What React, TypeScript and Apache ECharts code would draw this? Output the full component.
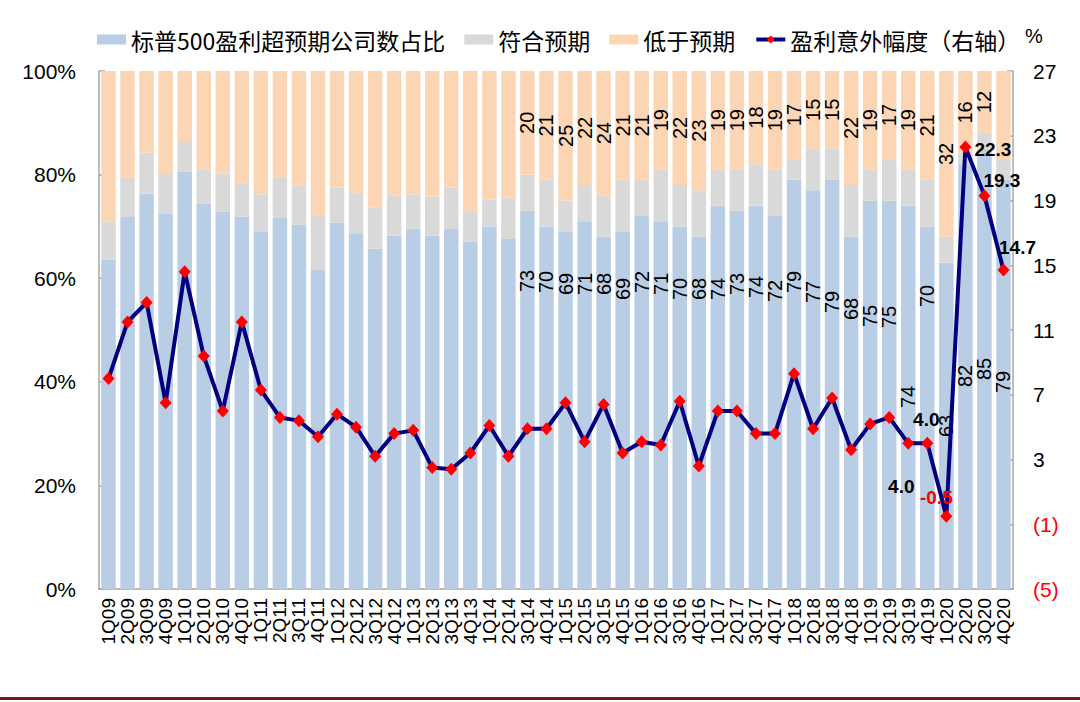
import React, { useEffect, useRef } from "react";
import * as echarts from "echarts";

const categories = [
  "1Q09", "2Q09", "3Q09", "4Q09", "1Q10", "2Q10", "3Q10", "4Q10",
  "1Q11", "2Q11", "3Q11", "4Q11", "1Q12", "2Q12", "3Q12", "4Q12",
  "1Q13", "2Q13", "3Q13", "4Q13", "1Q14", "2Q14", "3Q14", "4Q14",
  "1Q15", "2Q15", "3Q15", "4Q15", "1Q16", "2Q16", "3Q16", "4Q16",
  "1Q17", "2Q17", "3Q17", "4Q17", "1Q18", "2Q18", "3Q18", "4Q18",
  "1Q19", "2Q19", "3Q19", "4Q19", "1Q20", "2Q20", "3Q20", "4Q20",
];

// % of S&P 500 companies beating estimates
const beat = [
  63.6, 71.8, 76.3, 72.5, 80.6, 74.4, 72.8, 71.9, 69.0, 71.6, 70.3, 61.6,
  70.7, 68.7, 65.7, 68.2, 69.6, 68.2, 69.5, 67.1, 70.0, 67.6, 73, 70,
  69, 71, 68, 69, 72, 71, 70, 68, 74, 73, 74, 72,
  79, 77, 79, 68, 75, 75, 74, 70, 63, 82, 85, 79,
];
// % in line
const inline = [
  7.3, 7.7, 7.9, 7.8, 5.9, 6.6, 7.4, 6.3, 7.2, 7.9, 7.6, 10.4,
  6.8, 7.7, 7.9, 7.7, 6.6, 7.5, 8.0, 5.7, 5.2, 8.0, 7, 9,
  6, 7, 8, 10, 7, 10, 8, 9, 7, 8, 8, 9,
  4, 8, 6, 10, 6, 8, 7, 9, 5, 2, 3, 4,
];
// % missing estimates
const below = [
  29.1, 20.5, 15.8, 19.7, 13.5, 19.0, 19.8, 21.8, 23.8, 20.5, 22.1, 28.0,
  22.5, 23.6, 26.4, 24.1, 23.8, 24.3, 22.5, 27.2, 24.8, 24.4, 20, 21,
  25, 22, 24, 21, 21, 19, 22, 23, 19, 19, 18, 19,
  17, 15, 15, 22, 19, 17, 19, 21, 32, 16, 12, 17,
];
// earnings surprise magnitude (%), right axis
const surprise = [
  8.0, 11.5, 12.7, 6.5, 14.6, 9.4, 6.0, 11.5, 7.3, 5.6, 5.4, 4.4,
  5.8, 5.0, 3.2, 4.6, 4.8, 2.5, 2.4, 3.4, 5.1, 3.2, 4.9, 4.9,
  6.5, 4.1, 6.4, 3.4, 4.1, 3.9, 6.6, 2.6, 6.0, 6.0, 4.6, 4.6,
  8.3, 4.9, 6.8, 3.6, 5.2, 5.6, 4.0, 4.0, -0.5, 22.3, 19.3, 14.7,
];

const seriesNames = ["标普500盈利超预期公司数占比", "符合预期", "低于预期", "盈利意外幅度（右轴）"];

const leftTicks = { min: 0, max: 100, interval: 20 };
const rightTicks = { min: -5, max: 27, interval: 4 };

// first index where bar value labels are shown
const beatLabelFrom = 22;
const belowLabelFrom = 22;
const belowLabelTo = 46;

// layout: distance of each beat label from bar bottom (px), index from beatLabelFrom
const beatLabelLift = [
  297, 296, 294, 294, 294, 289, 296, 294, 289, 289, 289, 294, 291, 287,
  296, 286, 276, 269, 262, 261, 181, 282, 152, 202, 209, 196,
];

const surpriseLabelLayout: Record<number, any> = {
  42: { position: "bottom", offset: [-7, 22] },
  43: { position: "top", offset: [-1, -3] },
  44: { position: "top", offset: [-10, 2], color: "#FF0000" },
  45: { position: "right", offset: [-2, 2] },
  46: { position: "right", offset: [-12, -15] },
  47: { position: "top", offset: [14, -2] },
};

const NUM_FONT = 'Arial, "Liberation Sans", sans-serif';
const CJK_FONT = '"Noto Sans CJK SC", sans-serif';

export default function App() {
  const ref = useRef<HTMLDivElement>(null);

  useEffect(() => {
    if (!ref.current) return;
    const chart = echarts.init(ref.current, null, { renderer: "svg" });

    const beatData = beat.map((v, i) => {
      const show = i >= beatLabelFrom;
      return {
        value: v,
        label: show
          ? {
              show: true,
              position: "insideBottom",
              distance: beatLabelLift[i - beatLabelFrom],
              rotate: 90,
              align: "left",
              verticalAlign: "middle",
              formatter: String(Math.round(v)),
              fontFamily: NUM_FONT,
              fontSize: 20,
              color: "#000",
            }
          : { show: false },
      };
    });

    const belowData = below.map((v, i) => {
      const show = i >= belowLabelFrom && i <= belowLabelTo;
      return {
        value: v,
        label: show
          ? {
              show: true,
              position: "inside",
              rotate: 90,
              align: "center",
              verticalAlign: "middle",
              formatter: String(Math.round(v)),
              fontFamily: NUM_FONT,
              fontSize: 20,
              color: "#000",
            }
          : { show: false },
      };
    });

    const surpriseData = surprise.map((v, i) => {
      const lay = surpriseLabelLayout[i];
      return {
        value: v,
        label: lay
          ? {
              show: true,
              position: lay.position,
              offset: lay.offset,
              color: lay.color || "#000",
              fontWeight: "bold",
              fontFamily: NUM_FONT,
              fontSize: 19,
              formatter: v.toFixed(1),
            }
          : { show: false },
      };
    });

    const option: any = {
      animation: false,
      backgroundColor: "#fff",
      grid: { left: 99, right: 67, top: 71, bottom: 113, containLabel: false },
      legend: {
        left: 92,
        top: 23,
        itemWidth: 29,
        itemHeight: 10,
        itemGap: 19,
        textStyle: { fontFamily: CJK_FONT, fontSize: 23, color: "#000" },
        data: [
          { name: seriesNames[0], icon: "rect" },
          { name: seriesNames[1], icon: "rect" },
          { name: seriesNames[2], icon: "rect" },
          { name: seriesNames[3], lineStyle: { width: 4, color: "#000080" } },
        ],
      },
      xAxis: {
        type: "category",
        data: categories,
        axisLine: { lineStyle: { color: "#A6A6A6", width: 1.5 } },
        axisTick: { show: false },
        axisLabel: {
          interval: 0,
          rotate: 90,
          margin: 9,
          fontFamily: NUM_FONT,
          fontSize: 19,
          color: "#000",
        },
      },
      yAxis: [
        {
          type: "value",
          ...leftTicks,
          splitLine: { show: false },
          axisLine: { show: true, lineStyle: { color: "#A6A6A6", width: 1.5 } },
          axisTick: { show: true, inside: true, length: 6, lineStyle: { color: "#A6A6A6", width: 1.5 } },
          axisLabel: {
            formatter: "{value}%",
            margin: 23,
            fontFamily: NUM_FONT,
            fontSize: 21,
            color: "#000",
          },
        },
        {
          type: "value",
          ...rightTicks,
          position: "right",
          splitLine: { show: false },
          axisLine: { show: true, lineStyle: { color: "#A6A6A6", width: 1.5 } },
          axisTick: { show: true, inside: true, length: 6, lineStyle: { color: "#A6A6A6", width: 1.5 } },
          axisLabel: {
            margin: 20,
            fontFamily: NUM_FONT,
            fontSize: 21,
            formatter: (v: number) => (v < 0 ? `(${-v})` : String(v)),
            color: (v: any) => (Number(v) < 0 ? "#FF0000" : "#000"),
          },
        },
      ],
      series: [
        {
          name: seriesNames[0],
          type: "bar",
          stack: "share",
          yAxisIndex: 0,
          barCategoryGap: "24%",
          itemStyle: { color: "#B9CDE5" },
          data: beatData,
          z: 2,
        },
        {
          name: seriesNames[1],
          type: "bar",
          stack: "share",
          yAxisIndex: 0,
          itemStyle: { color: "#D9D9D9" },
          data: inline,
          z: 2,
        },
        {
          name: seriesNames[2],
          type: "bar",
          stack: "share",
          yAxisIndex: 0,
          itemStyle: { color: "#FCD5B5" },
          data: belowData,
          z: 2,
        },
        {
          name: seriesNames[3],
          type: "line",
          yAxisIndex: 1,
          symbol: "diamond",
          symbolSize: [12, 13],
          lineStyle: { color: "#000080", width: 4 },
          itemStyle: { color: "#FF0000" },
          data: surpriseData,
          z: 5,
        },
      ],
      graphic: [
        {
          type: "text",
          left: 1025,
          top: 26,
          style: { text: "%", fontFamily: NUM_FONT, fontSize: 20, fill: "#000" },
        },
        {
          type: "rect",
          left: 0,
          top: 697,
          shape: { width: 1080, height: 3 },
          style: { fill: "#7B1818" },
        },
      ],
    };

    chart.setOption(option);
    return () => chart.dispose();
  }, []);

  return (
    <div
      ref={ref}
      style={{ position: "fixed", left: 0, top: 0, width: 1080, height: 702, background: "#fff" }}
    />
  );
}
